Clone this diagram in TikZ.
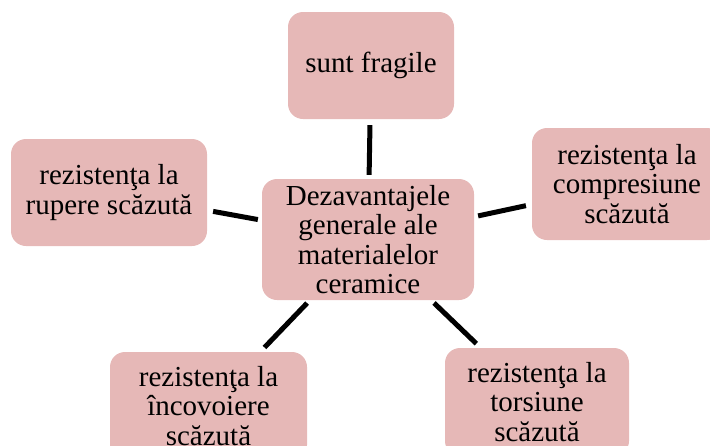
\documentclass[tikz,border=0pt]{standalone}
\usepackage{fontspec}
\setmainfont{Liberation Serif}
\definecolor{boxpink}{HTML}{E6B8B7}
\begin{document}
\begin{tikzpicture}[x=1pt,y=-1pt,
  box/.style={rectangle, rounded corners=15pt, fill=boxpink, align=center, inner sep=0pt,
    font=\fontsize{29}{29.5}\selectfont},
  link/.style={line width=5pt, shorten <=4pt, shorten >=6pt}]
\useasboundingbox (0,0) rectangle (710,445);
\clip (0,0) rectangle (710,445);
\node[box, minimum width=212pt, minimum height=121pt] (c) at (368,239.5) {Dezavantajele\\generale ale\\materialelor\\ceramice};
\node[box, minimum width=166pt, minimum height=107pt] (t) at (371,65.5) {sunt fragile};
\node[box, minimum width=190pt, minimum height=112pt] (r) at (627,184) {rezistenţa la\\compresiune\\scăzută};
\node[box, minimum width=196pt, minimum height=107pt] (l) at (109,192.5) {rezistenţa la\\rupere scăzută};
\node[box, minimum width=197pt, minimum height=108pt] (bl) at (208.5,406) {rezistenţa la\\încovoiere\\scăzută};
\node[box, minimum width=184pt, minimum height=108pt] (br) at (537,402) {rezistenţa la\\torsiune\\scăzută};
\draw[link] (c) -- (t);
\draw[link] (c) -- (r);
\draw[link] (c) -- (l);
\draw[link] (c) -- (bl);
\draw[link] (c) -- (br);
\end{tikzpicture}
\end{document}
